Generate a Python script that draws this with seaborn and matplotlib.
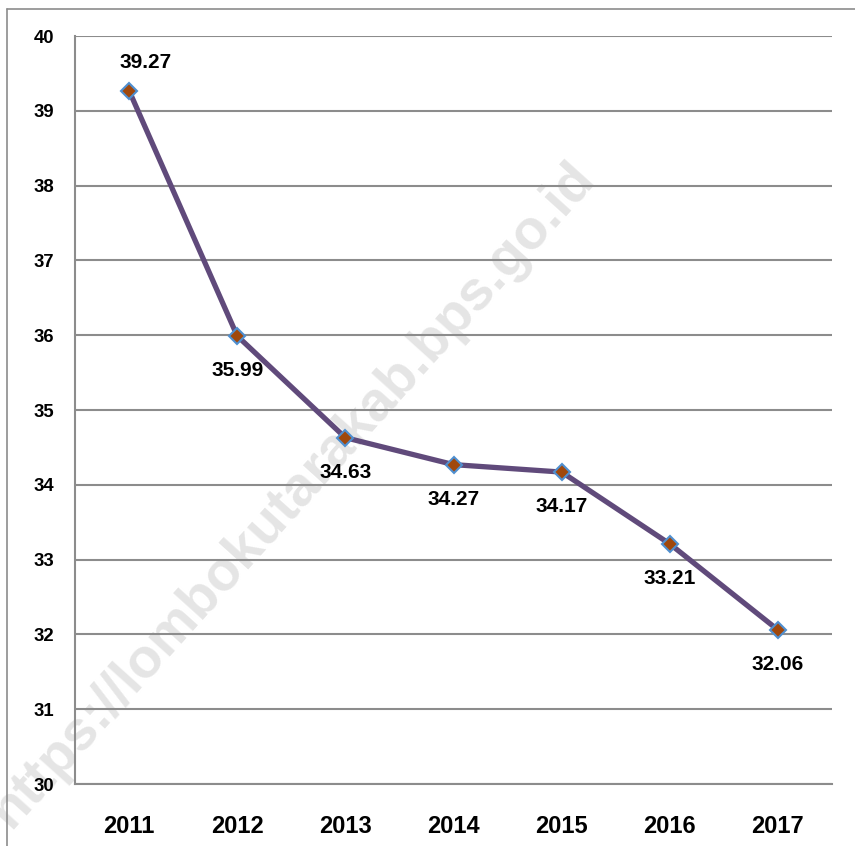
import numpy as np
import pandas as pd
import matplotlib
matplotlib.use("Agg")
import matplotlib.pyplot as plt
import seaborn as sns
from matplotlib.lines import Line2D

# data
years = ["2011", "2012", "2013", "2014", "2015", "2016", "2017"]
values = [39.27, 35.99, 34.63, 34.27, 34.17, 33.21, 32.06]
label_pos = ["above", "below", "below", "below", "below", "below", "below"]
y_ticks = [30, 31, 32, 33, 34, 35, 36, 37, 38, 39, 40]

sns.set_style("white")
plt.rcParams['font.family'] = ['Liberation Sans', 'DejaVu Sans']
plt.rcParams['text.color'] = 'black'
plt.rcParams['xtick.labelcolor'] = 'black'
plt.rcParams['ytick.labelcolor'] = 'black'

df = pd.DataFrame({"pos": np.arange(len(years)), "year": years, "value": values})

fig = plt.figure(figsize=(8.55, 8.46), dpi=100)
ax = fig.add_axes([75 / 855, 1 - 784 / 846, (832 - 75) / 855, (784 - 36) / 846])
ax.set_zorder(1)

grid_col = "#8c8c8c"

# watermark (behind the plot)
fig.text(0.342, 0.415, "https://lombokutarakab.bps.go.id", rotation=48,
         fontsize=40, fontweight="bold", color="#e5e5e5", ha="center", va="center",
         zorder=0)

sns.lineplot(data=df, x="pos", y="value", ax=ax, color="#604a7b", linewidth=3.8,
             marker="D", markersize=8, markerfacecolor="#a0480c",
             markeredgecolor="#4f8fd0", markeredgewidth=1.5, zorder=3)

ax.set_xlim(-0.5, len(years) - 0.5)
ax.set_ylim(30, 40)
ax.set_yticks(y_ticks)
ax.set_yticklabels([str(t) for t in y_ticks], fontsize=13.3, fontweight="bold")
ax.set_xticks(df["pos"])
ax.set_xticklabels(years, fontsize=17, fontweight="bold")
ax.set_xticks(np.arange(-0.5, len(years)), minor=True)
ax.tick_params(axis="x", which="major", length=0, pad=22)
ax.tick_params(axis="x", which="minor", length=7, width=1.5, color=grid_col, direction="out")
ax.tick_params(axis="y", length=6, width=1.5, color=grid_col, direction="out", pad=9)
ax.set_xlabel("")
ax.set_ylabel("")

ax.yaxis.grid(True, color=grid_col, linewidth=1.5)
ax.xaxis.grid(False)
ax.set_axisbelow(True)
ax.patch.set_alpha(0)
for side in ["top", "right"]:
    ax.spines[side].set_visible(False)
for side in ["left", "bottom"]:
    ax.spines[side].set_color(grid_col)
    ax.spines[side].set_linewidth(1.5)

for x, v, where in zip(df["pos"], values, label_pos):
    if where == "above":
        ax.annotate(f"{v:.2f}", (x, v), xytext=(12, 20), textcoords="offset points",
                    ha="center", va="center", fontsize=15, fontweight="bold")
    else:
        ax.annotate(f"{v:.2f}", (x, v), xytext=(0, -25), textcoords="offset points",
                    ha="center", va="center", fontsize=15, fontweight="bold")

# outer chart frame (left and top edges visible)
fig.add_artist(Line2D([7 / 855, 7 / 855], [0, 1 - 9 / 846], transform=fig.transFigure,
                      color="#8c8c8c", linewidth=1.2))
fig.add_artist(Line2D([7 / 855, 1], [1 - 9 / 846, 1 - 9 / 846], transform=fig.transFigure,
                      color="#8c8c8c", linewidth=1.2))

fig.savefig("out.png", dpi=100)
